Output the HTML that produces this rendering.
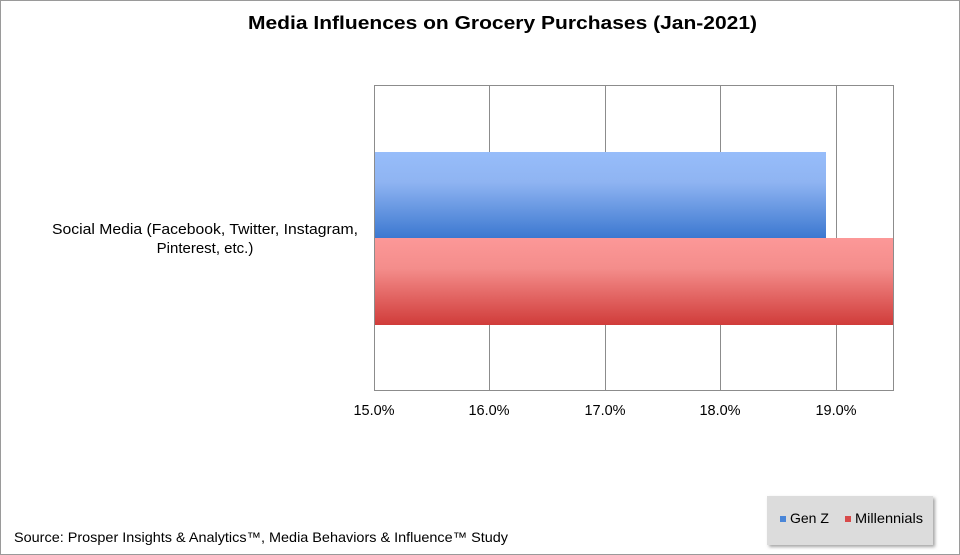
<!DOCTYPE html>
<html><head><style>
body{margin:0;background:#fff;}
.wrap{position:relative;width:960px;height:555px;overflow:hidden;font-family:"Liberation Sans",Arial,sans-serif;}
</style></head><body><div class="wrap">
<svg width="960" height="555" xmlns="http://www.w3.org/2000/svg">
<defs>
<linearGradient id="b" x1="0" y1="0" x2="0" y2="1"><stop offset="0" stop-color="#97bdfa"/><stop offset="0.35" stop-color="#8fb4f2"/><stop offset="1" stop-color="#3c78d0"/></linearGradient>
<linearGradient id="r" x1="0" y1="0" x2="0" y2="1"><stop offset="0" stop-color="#fc9898"/><stop offset="0.35" stop-color="#f48d8b"/><stop offset="1" stop-color="#d03c3a"/></linearGradient>
<filter id="sh"><feDropShadow dx="2" dy="2" stdDeviation="1.5" flood-color="#666" flood-opacity="0.6"/></filter>
</defs>
<rect x="0.5" y="0.5" width="959" height="554" fill="#fff" stroke="#9a9a9a"/>
<text x="248" y="29" font-size="18" font-weight="bold" textLength="509" lengthAdjust="spacingAndGlyphs" fill="#000">Media Influences on Grocery Purchases (Jan-2021)</text>
<g stroke="#8c8c8c" stroke-width="1">
<line x1="489.5" y1="85" x2="489.5" y2="390"/>
<line x1="605.5" y1="85" x2="605.5" y2="390"/>
<line x1="720.5" y1="85" x2="720.5" y2="390"/>
<line x1="836.5" y1="85" x2="836.5" y2="390"/>
</g>
<rect x="374" y="152" width="452" height="86" fill="url(#b)"/>
<rect x="374" y="238" width="519" height="87" fill="url(#r)"/>
<rect x="374.5" y="85.5" width="519" height="305" fill="none" stroke="#8c8c8c"/>
<g font-size="14.5" fill="#000" text-anchor="middle">
<text x="374" y="415">15.0%</text><text x="489" y="415">16.0%</text><text x="605" y="415">17.0%</text><text x="720" y="415">18.0%</text><text x="836" y="415">19.0%</text>
</g>
<text x="52" y="234" font-size="15" textLength="306" lengthAdjust="spacingAndGlyphs">Social Media (Facebook, Twitter, Instagram,</text>
<text x="205" y="253" font-size="15" text-anchor="middle">Pinterest, etc.)</text>
<text x="14" y="542" font-size="14" textLength="494" lengthAdjust="spacingAndGlyphs">Source: Prosper Insights &amp; Analytics™, Media Behaviors &amp; Influence™ Study</text>
<rect x="767" y="496" width="166" height="49" fill="#dcdcdc" filter="url(#sh)"/>
<rect x="780" y="516" width="6" height="6" fill="#4a86d8"/>
<text x="790" y="523" font-size="14">Gen Z</text>
<rect x="845" y="516" width="6" height="6" fill="#d84a4a"/>
<text x="855" y="523" font-size="14" textLength="68" lengthAdjust="spacingAndGlyphs">Millennials</text>
</svg>
</div></body></html>
